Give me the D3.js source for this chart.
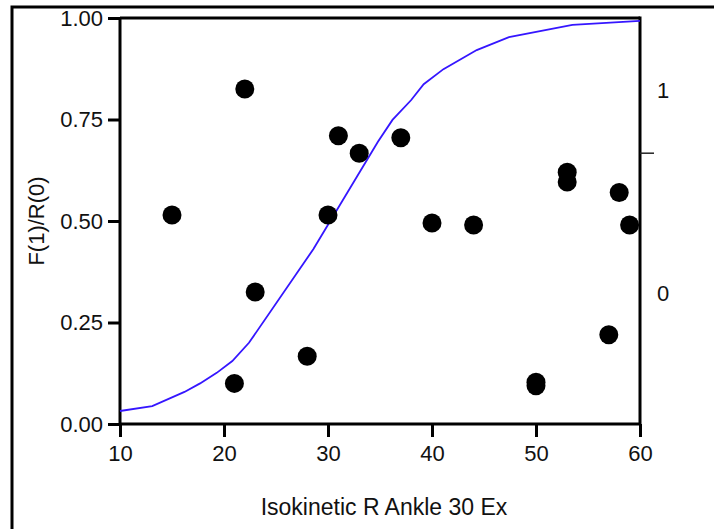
<!DOCTYPE html>
<html>
<head>
<meta charset="utf-8">
<script src="https://cdn.jsdelivr.net/npm/d3@7"></script>
<style>
  body { margin: 0; background: #fff; }
  text { font-family: "Liberation Sans", Arial, sans-serif; fill: #111; }
</style>
</head>
<body>
<script>
// scatter points
const ptX = [15, 21, 22, 23, 28, 30, 31, 33, 37, 40, 44, 50, 50, 53, 53, 57, 58, 59];
const ptY = [0.515, 0.10, 0.825, 0.325, 0.167, 0.515, 0.71, 0.667, 0.705, 0.495, 0.49, 0.103, 0.094, 0.62, 0.596, 0.22, 0.57, 0.49];

// fitted curve vertices
const curveX = [10, 13.1, 16.2, 17.7, 19.3, 20.8, 22.4, 28.6, 34.8, 36.2, 38.0, 39.2, 41.1, 44.3, 47.4, 53.5, 60];
const curveY = [0.032, 0.044, 0.079, 0.10, 0.126, 0.155, 0.2, 0.431, 0.695, 0.749, 0.798, 0.837, 0.874, 0.921, 0.953, 0.983, 0.993];

const xTicks = [10, 20, 30, 40, 50, 60];
const yTicks = [0, 0.25, 0.5, 0.75, 1];
// right side: one tick and two labels, given in left-axis units
const rightTicks = [0.667];
const rightLabels = ["1", "0"];
const rightLabelAt = [0.823, 0.323];

const width = 714, height = 529;
const margin = { left: 120, right: 74, top: 18, bottom: 105 };
const font = '"Liberation Sans", Arial, sans-serif';

const svg = d3.select("body").append("svg")
    .attr("width", width)
    .attr("height", height);

// outer frame
svg.append("rect")
    .attr("x", 12).attr("y", 7)
    .attr("width", 720).attr("height", 540)
    .attr("fill", "none").attr("stroke", "#000").attr("stroke-width", 3);

const x = d3.scaleLinear().domain([10, 60]).range([margin.left, width - margin.right]);
const y = d3.scaleLinear().domain([0, 1]).range([height - margin.bottom, margin.top]);

// bottom axis
const xAxis = svg.append("g")
    .attr("transform", `translate(0,${y(0)})`)
    .call(d3.axisBottom(x).tickValues(xTicks).tickFormat(d3.format("d")).tickSize(13).tickPadding(8));

// left axis
const yAxis = svg.append("g")
    .attr("transform", `translate(${x(10)},0)`)
    .call(d3.axisLeft(y).tickValues(yTicks).tickFormat(d3.format(".2f")).tickSize(12).tickPadding(5));

[xAxis, yAxis].forEach(g => {
    g.select(".domain").attr("stroke", "#000").attr("stroke-width", 3);
    g.selectAll(".tick line").attr("stroke", "#000").attr("stroke-width", 3);
    g.selectAll(".tick text").style("font-size", "22px")
        .style("font-family", font).attr("fill", "#111");
});
xAxis.select(".domain").attr("d", `M${x(10)},0H${x(60)}`);
yAxis.select(".domain").attr("d", `M0,${y(0)}V${y(1)}`);

// top and right frame of plot
svg.append("line")
    .attr("x1", x(10)).attr("x2", x(60)).attr("y1", y(1)).attr("y2", y(1))
    .attr("stroke", "#000").attr("stroke-width", 3);
svg.append("line")
    .attr("x1", x(60)).attr("x2", x(60)).attr("y1", y(1) - 1.5).attr("y2", y(0))
    .attr("stroke", "#000").attr("stroke-width", 3);

// right ticks and labels
svg.selectAll("line.rtick")
    .data(rightTicks)
    .enter().append("line")
    .attr("class", "rtick")
    .attr("x1", x(60)).attr("x2", x(60) + 14)
    .attr("y1", d => y(d)).attr("y2", d => y(d))
    .attr("stroke", "#222").attr("stroke-width", 1.5);

svg.selectAll("text.rlab")
    .data(rightLabels)
    .enter().append("text")
    .attr("class", "rlab")
    .attr("x", x(60) + 17)
    .attr("y", (d, i) => y(rightLabelAt[i]))
    .attr("dy", "0.35em")
    .style("font-size", "22px")
    .text(d => d);

// curve
const line = d3.line()
    .x((d, i) => x(curveX[i]))
    .y(d => y(d));
svg.append("path")
    .datum(curveY)
    .attr("d", line)
    .attr("fill", "none")
    .attr("stroke", "#3516ff")
    .attr("stroke-width", 1.8);

// points
svg.selectAll("circle.pt")
    .data(ptY)
    .enter().append("circle")
    .attr("class", "pt")
    .attr("cx", (d, i) => x(ptX[i]))
    .attr("cy", d => y(d))
    .attr("r", 9.5)
    .attr("fill", "#000");

// axis titles
svg.append("text")
    .attr("transform", `translate(44,${y(0.5)}) rotate(-90)`)
    .attr("text-anchor", "middle")
    .style("font-size", "22px")
    .text("F(1)/R(0)");

svg.append("text")
    .attr("x", 384)
    .attr("y", 515)
    .attr("text-anchor", "middle")
    .style("font-size", "23px")
    .text("Isokinetic R Ankle 30 Ex");
</script>
</body>
</html>
